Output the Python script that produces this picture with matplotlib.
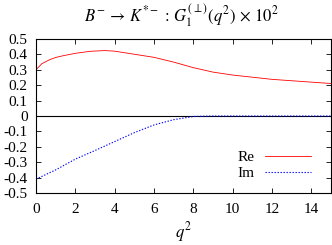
import matplotlib
matplotlib.use("Agg")
import matplotlib.pyplot as plt
import numpy as np

plt.rcParams['font.family'] = ['Liberation Serif', 'DejaVu Serif']
plt.rcParams['mathtext.fontset'] = 'stix'

q2_re = [0, 0.3, 0.7, 1.0, 1.4, 2.0, 2.75, 3.5, 4.0, 4.8, 6.0, 7.0, 8.0, 9.0, 10.0, 12.0, 14.0, 15.0]
re_vals = [0.30, 0.34, 0.366, 0.38, 0.392, 0.407, 0.42, 0.425, 0.421, 0.405, 0.381, 0.35, 0.314, 0.285, 0.266, 0.238, 0.22, 0.211]

q2_im = [0, 1, 2, 3, 4, 5, 6, 7, 8, 9, 10, 12, 14, 15]
im_vals = [-0.41, -0.35, -0.28, -0.224, -0.166, -0.108, -0.058, -0.024, -0.003, 0, 0, 0, 0, 0]

x_ticks = [0, 2, 4, 6, 8, 10, 12, 14]
y_ticks = [-0.5, -0.4, -0.3, -0.2, -0.1, 0, 0.1, 0.2, 0.3, 0.4, 0.5]
y_labels = ['-0.5', '-0.4', '-0.3', '-0.2', '-0.1', '0', '0.1', '0.2', '0.3', '0.4', '0.5']

fig = plt.figure(figsize=(3.32, 2.45), dpi=100)
ax = fig.add_axes([0.1084, 0.2122, 0.8886, 0.6286])

ax.axhline(0, color='black', lw=0.8)
ax.plot(q2_re, re_vals, color='#ff0000', lw=0.6, label='Re')
ax.plot(q2_im, im_vals, color='#0000ff', lw=0.8, ls=(0, (1.2, 1.5)), label='Im')

ax.set_xlim(0, 15)
ax.set_ylim(-0.5, 0.5)
ax.set_xticks(x_ticks)
ax.set_yticks(y_ticks)
ax.set_yticklabels(y_labels)
ax.tick_params(direction='in', top=True, right=True, labelsize=11, length=3.5, width=0.6)
ax.tick_params(axis='x', pad=7)
ax.tick_params(axis='y', pad=6)
for s in ax.spines.values():
    s.set_linewidth(0.8)

ax.set_xlabel(r'$q^2$', fontsize=12, labelpad=3)
fig.text(0.545, 0.935, r'$B^{-}\,\to\,K^{*-}\,:\,G_1^{(\perp)}(q^2)\,\times\,10^2$', ha='center', va='center', fontsize=12)

leg = ax.legend(loc='lower right', frameon=False, fontsize=11, markerfirst=False,
                handlelength=3.0, borderaxespad=0.0, labelspacing=0.15, handletextpad=0.7,
                bbox_to_anchor=(0.953, 0.045))
for t in leg.get_texts():
    t.set_ha('right')

fig.savefig('out.png', dpi=100)
